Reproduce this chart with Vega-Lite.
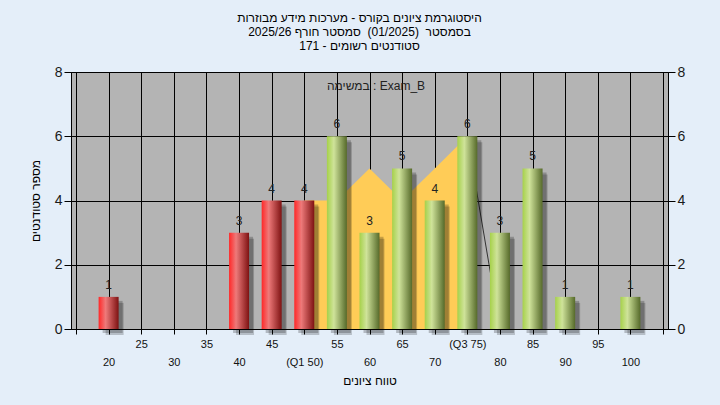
{
  "$schema": "https://vega.github.io/schema/vega-lite/v6.json",
  "width": 597,
  "height": 257,
  "autosize": "none",
  "padding": {"left": 71, "top": 72, "right": 52, "bottom": 76},
  "background": "#e4eef9",
  "config": {
    "view": {"fill": "#b4b4b4", "stroke": "#000000", "strokeWidth": 1},
    "font": "Liberation Sans",
    "axis": {"labelFont": "Liberation Sans", "titleFont": "Liberation Sans"}
  },
  "title": {
    "text": ["היסטוגרמת ציונים בקורס - מערכות מידע מבוזרות", "בסמסטר \u00a0(01/2025)\u00a0 סמסטר חורף 2025/26", "סטודנטים רשומים - 171"],
    "fontSize": 12,
    "fontWeight": "normal",
    "color": "#000000",
    "lineHeight": 14,
    "offset": 12,
    "anchor": "middle",
    "dx": -10
  },
  "datasets": {
    "grades": [
      {"grade": 20, "count": 1},
      {"grade": 40, "count": 3},
      {"grade": 45, "count": 4},
      {"grade": 50, "count": 4},
      {"grade": 55, "count": 6},
      {"grade": 60, "count": 3},
      {"grade": 65, "count": 5},
      {"grade": 70, "count": 4},
      {"grade": 75, "count": 6},
      {"grade": 80, "count": 3},
      {"grade": 85, "count": 5},
      {"grade": 90, "count": 1},
      {"grade": 100, "count": 1}
    ],
    "iqr": [
      {"grade": 50, "v": 4},
      {"grade": 55, "v": 4},
      {"grade": 60, "v": 5},
      {"grade": 65, "v": 4},
      {"grade": 70, "v": 5},
      {"grade": 75, "v": 6}
    ],
    "edge": [
      {"grade": 75, "v": 6},
      {"grade": 80, "v": 0}
    ],
    "note": [
      {"grade": 61, "v": 7.55, "label": "במשימה : Exam_B"}
    ]
  },
  "layer": [
    {
      "data": {"name": "iqr"},
      "mark": {"type": "area", "color": "#ffcc57", "opacity": 1},
      "encoding": {
        "x": {
          "field": "grade", "type": "quantitative",
          "scale": {"domain": [15, 105], "nice": false, "zero": false},
          "axis": {
            "values": [15, 20, 25, 30, 35, 40, 45, 50, 55, 60, 65, 70, 75, 80, 85, 90, 95, 100, 105],
            "labelExpr": "datum.value == 15 || datum.value == 105 ? '' : datum.value == 50 ? ['\u00a0', '(Q1 50)'] : datum.value == 75 ? '(Q3 75)' : (datum.value / 5) % 2 == 0 ? ['\u00a0', datum.label] : datum.label",
            "labelOverlap": false,
            "labelFlush": false,
            "labelFontSize": 11,
            "labelColor": "#111111",
            "labelLineHeight": 18,
            "labelPadding": 4,
            "grid": true,
            "gridColor": "#000000",
            "gridOpacity": 1,
            "gridWidth": 1,
            "tickColor": "#000000",
            "tickSize": 5,
            "domainColor": "#000000",
            "title": "טווח ציונים",
            "titleFontSize": 12,
            "titleFontWeight": "normal",
            "titleColor": "#000000",
            "titlePadding": 8
          }
        },
        "y": {
          "field": "v", "type": "quantitative",
          "scale": {"domain": [0, 8], "nice": false},
          "axis": {
            "values": [0, 2, 4, 6, 8],
            "grid": true,
            "gridColor": "#000000",
            "gridOpacity": 1,
            "gridWidth": 1,
            "tickColor": "#000000",
            "tickSize": 7,
            "domainColor": "#000000",
            "labelFontSize": 14,
            "labelColor": "#1a1a1a",
            "labelPadding": 2,
            "title": "מספר סטודנטים",
            "titleFontSize": 12,
            "titleFontWeight": "normal",
            "titleColor": "#000000",
            "titlePadding": 12
          }
        }
      }
    },
    {
      "data": {"name": "edge"},
      "mark": {"type": "line", "color": "#333333", "strokeWidth": 1},
      "encoding": {
        "x": {"field": "grade", "type": "quantitative", "axis": null},
        "y": {"field": "v", "type": "quantitative", "axis": null}
      }
    },
    {
      "data": {"name": "grades"},
      "mark": {"type": "bar", "size": 20, "xOffset": 4, "yOffset": 4, "color": "#000000", "opacity": 0.22},
      "encoding": {
        "x": {"field": "grade", "type": "quantitative", "axis": null},
        "y": {"field": "count", "type": "quantitative", "axis": null}
      }
    },
    {
      "data": {"name": "grades"},
      "mark": {"type": "bar", "size": 18, "xOffset": 6, "yOffset": 6, "color": "#000000", "opacity": 0.2},
      "encoding": {
        "x": {"field": "grade", "type": "quantitative", "axis": null},
        "y": {"field": "count", "type": "quantitative", "axis": null}
      }
    },
    {
      "data": {"name": "grades"},
      "transform": [{"filter": "datum.grade < 55"}],
      "mark": {
        "type": "bar", "size": 20,
        "color": {"gradient": "linear", "x1": 0, "y1": 0, "x2": 1, "y2": 0,
          "stops": [
            {"offset": 0, "color": "#ff2828"},
            {"offset": 0.35, "color": "#ee7a7a"},
            {"offset": 1, "color": "#7e1212"}
          ]}
      },
      "encoding": {
        "x": {"field": "grade", "type": "quantitative", "axis": null},
        "y": {"field": "count", "type": "quantitative", "axis": null}
      }
    },
    {
      "data": {"name": "grades"},
      "transform": [{"filter": "datum.grade >= 55"}],
      "mark": {
        "type": "bar", "size": 20,
        "color": {"gradient": "linear", "x1": 0, "y1": 0, "x2": 1, "y2": 0,
          "stops": [
            {"offset": 0, "color": "#a6d14a"},
            {"offset": 0.35, "color": "#cfe39a"},
            {"offset": 1, "color": "#566a2a"}
          ]}
      },
      "encoding": {
        "x": {"field": "grade", "type": "quantitative", "axis": null},
        "y": {"field": "count", "type": "quantitative", "axis": null}
      }
    },
    {
      "data": {"name": "grades"},
      "mark": {"type": "text", "baseline": "bottom", "dy": -5, "fontSize": 12, "color": "#222222"},
      "encoding": {
        "x": {"field": "grade", "type": "quantitative", "axis": null},
        "y": {
          "field": "count", "type": "quantitative",
          "axis": {
            "orient": "right",
            "values": [0, 2, 4, 6, 8],
            "grid": false,
            "tickColor": "#000000",
            "tickSize": 7,
            "domainColor": "#000000",
            "labelFontSize": 14,
            "labelColor": "#1a1a1a",
            "labelPadding": 2,
            "title": null
          }
        },
        "text": {"field": "count", "type": "quantitative"}
      }
    },
    {
      "data": {"name": "note"},
      "mark": {"type": "text", "fontSize": 12, "color": "#222222"},
      "encoding": {
        "x": {"field": "grade", "type": "quantitative", "axis": null},
        "y": {"field": "v", "type": "quantitative", "axis": null},
        "text": {"field": "label"}
      }
    }
  ],
  "resolve": {"axis": {"x": "independent", "y": "independent"}}
}
